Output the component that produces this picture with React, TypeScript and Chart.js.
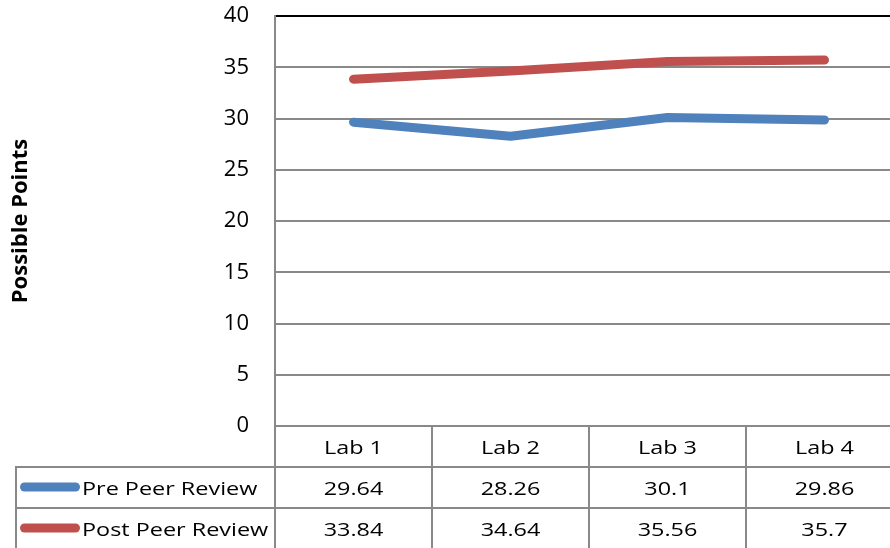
import React, { useEffect, useRef } from "react";
import { Chart, registerables } from "chart.js";

Chart.register(...registerables);

const categories = ["Lab 1", "Lab 2", "Lab 3", "Lab 4"];
const seriesNames = ["Pre Peer Review", "Post Peer Review"];
const prePeerReview = [29.64, 28.26, 30.1, 29.86];
const postPeerReview = [33.84, 34.64, 35.56, 35.7];
const seriesColors = ["#4F81BD", "#C0504D"];
const yMin = 0;
const yMax = 40;
const yStep = 5;
const yTitle = "Possible Points";

const GRID = "#898989";
const FONT = "'Open Sans', sans-serif";
const STRETCH = 1.3;

function drawStretched(ctx: CanvasRenderingContext2D, text: string, x: number, cy: number, align: CanvasTextAlign) {
  ctx.save();
  ctx.translate(x, cy);
  ctx.scale(STRETCH, 1);
  ctx.textAlign = align;
  ctx.textBaseline = "alphabetic";
  const m = ctx.measureText("0");
  const cap = m.actualBoundingBoxAscent || 13;
  ctx.fillText(text, 0, cap / 2);
  ctx.restore();
}

const dataTablePlugin = {
  id: "dataTable",
  afterDraw(chart: any) {
    const { ctx, chartArea, scales } = chart;
    const xs = scales.x;
    const labels: string[] = chart.data.labels;
    const n = labels.length;
    const left = chartArea.left;
    const right = chartArea.right;
    const colW = (right - left) / n;
    const top = chartArea.bottom;
    const rowH = 41;
    const tableLeft = 16;
    ctx.save();
    ctx.strokeStyle = GRID;
    ctx.lineWidth = 2;
    ctx.beginPath();
    for (let r = 1; r <= 3; r++) {
      const y = top + r * rowH;
      ctx.moveTo(tableLeft - 1, y);
      ctx.lineTo(right, y);
    }
    for (let c = 0; c <= n; c++) {
      const x = left + c * colW;
      ctx.moveTo(x, top);
      ctx.lineTo(x, top + 3 * rowH);
    }
    ctx.moveTo(tableLeft, top + rowH);
    ctx.lineTo(tableLeft, top + 3 * rowH);
    ctx.stroke();

    ctx.fillStyle = "#000";
    ctx.font = `18px ${FONT}`;
    labels.forEach((lab, i) => {
      drawStretched(ctx, lab, xs.getPixelForValue(i), top + rowH / 2 + 1, "center");
    });
    chart.data.datasets.forEach((ds: any, r: number) => {
      const cy = top + rowH * (r + 1) + rowH / 2 + 1;
      ctx.save();
      ctx.strokeStyle = ds.borderColor;
      ctx.lineWidth = 9;
      ctx.lineCap = "round";
      ctx.beginPath();
      ctx.moveTo(24.5, cy - 1.5);
      ctx.lineTo(75.5, cy - 1.5);
      ctx.stroke();
      ctx.restore();
      ctx.fillStyle = "#000";
      drawStretched(ctx, ds.label, 82, cy, "left");
      ds.data.forEach((v: number, i: number) => {
        drawStretched(ctx, String(v), xs.getPixelForValue(i), cy, "center");
      });
    });
    ctx.restore();
  },
};

export default function App() {
  const ref = useRef<HTMLCanvasElement>(null);
  useEffect(() => {
    const chart = new Chart(ref.current!, {
      type: "line",
      data: {
        labels: categories,
        datasets: [
          {
            label: seriesNames[0],
            data: prePeerReview,
            borderColor: seriesColors[0],
            backgroundColor: seriesColors[0],
            borderWidth: 9,
            borderCapStyle: "round",
            borderJoinStyle: "round",
            pointRadius: 0,
            pointHoverRadius: 0,
            tension: 0,
          },
          {
            label: seriesNames[1],
            data: postPeerReview,
            borderColor: seriesColors[1],
            backgroundColor: seriesColors[1],
            borderWidth: 9,
            borderCapStyle: "round",
            borderJoinStyle: "round",
            pointRadius: 0,
            pointHoverRadius: 0,
            tension: 0,
          },
        ],
      },
      options: {
        animation: false,
        responsive: true,
        maintainAspectRatio: false,
        layout: { padding: { top: 16, bottom: 122, left: 0, right: 1 } },
        plugins: { legend: { display: false }, tooltip: { enabled: false } },
        scales: {
          x: { type: "category", offset: true, display: false },
          y: {
            min: yMin,
            max: yMax,
            afterFit: (scale: any) => {
              scale.width = 275;
              scale.paddingTop = 0;
              scale.paddingBottom = 0;
            },
            ticks: {
              stepSize: yStep,
              color: "#000",
              padding: 26,
              font: { family: FONT, size: 22 },
            },
            grid: {
              drawTicks: false,
              lineWidth: 2,
              color: (c: any) => (c.tick && c.tick.value === yMax ? "#000" : GRID),
            },
            border: { color: GRID, width: 2 },
            title: {
              display: true,
              text: yTitle,
              color: "#000",
              font: { family: FONT, size: 22, weight: "bold" },
              padding: { top: 8, bottom: 0 },
            },
          },
        },
      },
      plugins: [dataTablePlugin],
    });
    return () => chart.destroy();
  }, []);
  return (
    <div style={{ position: "fixed", left: 0, top: 0, width: 890, height: 548, overflow: "hidden", background: "#fff" }}>
      <div style={{ position: "relative", width: 904, height: 548 }}>
        <canvas ref={ref} />
      </div>
    </div>
  );
}
